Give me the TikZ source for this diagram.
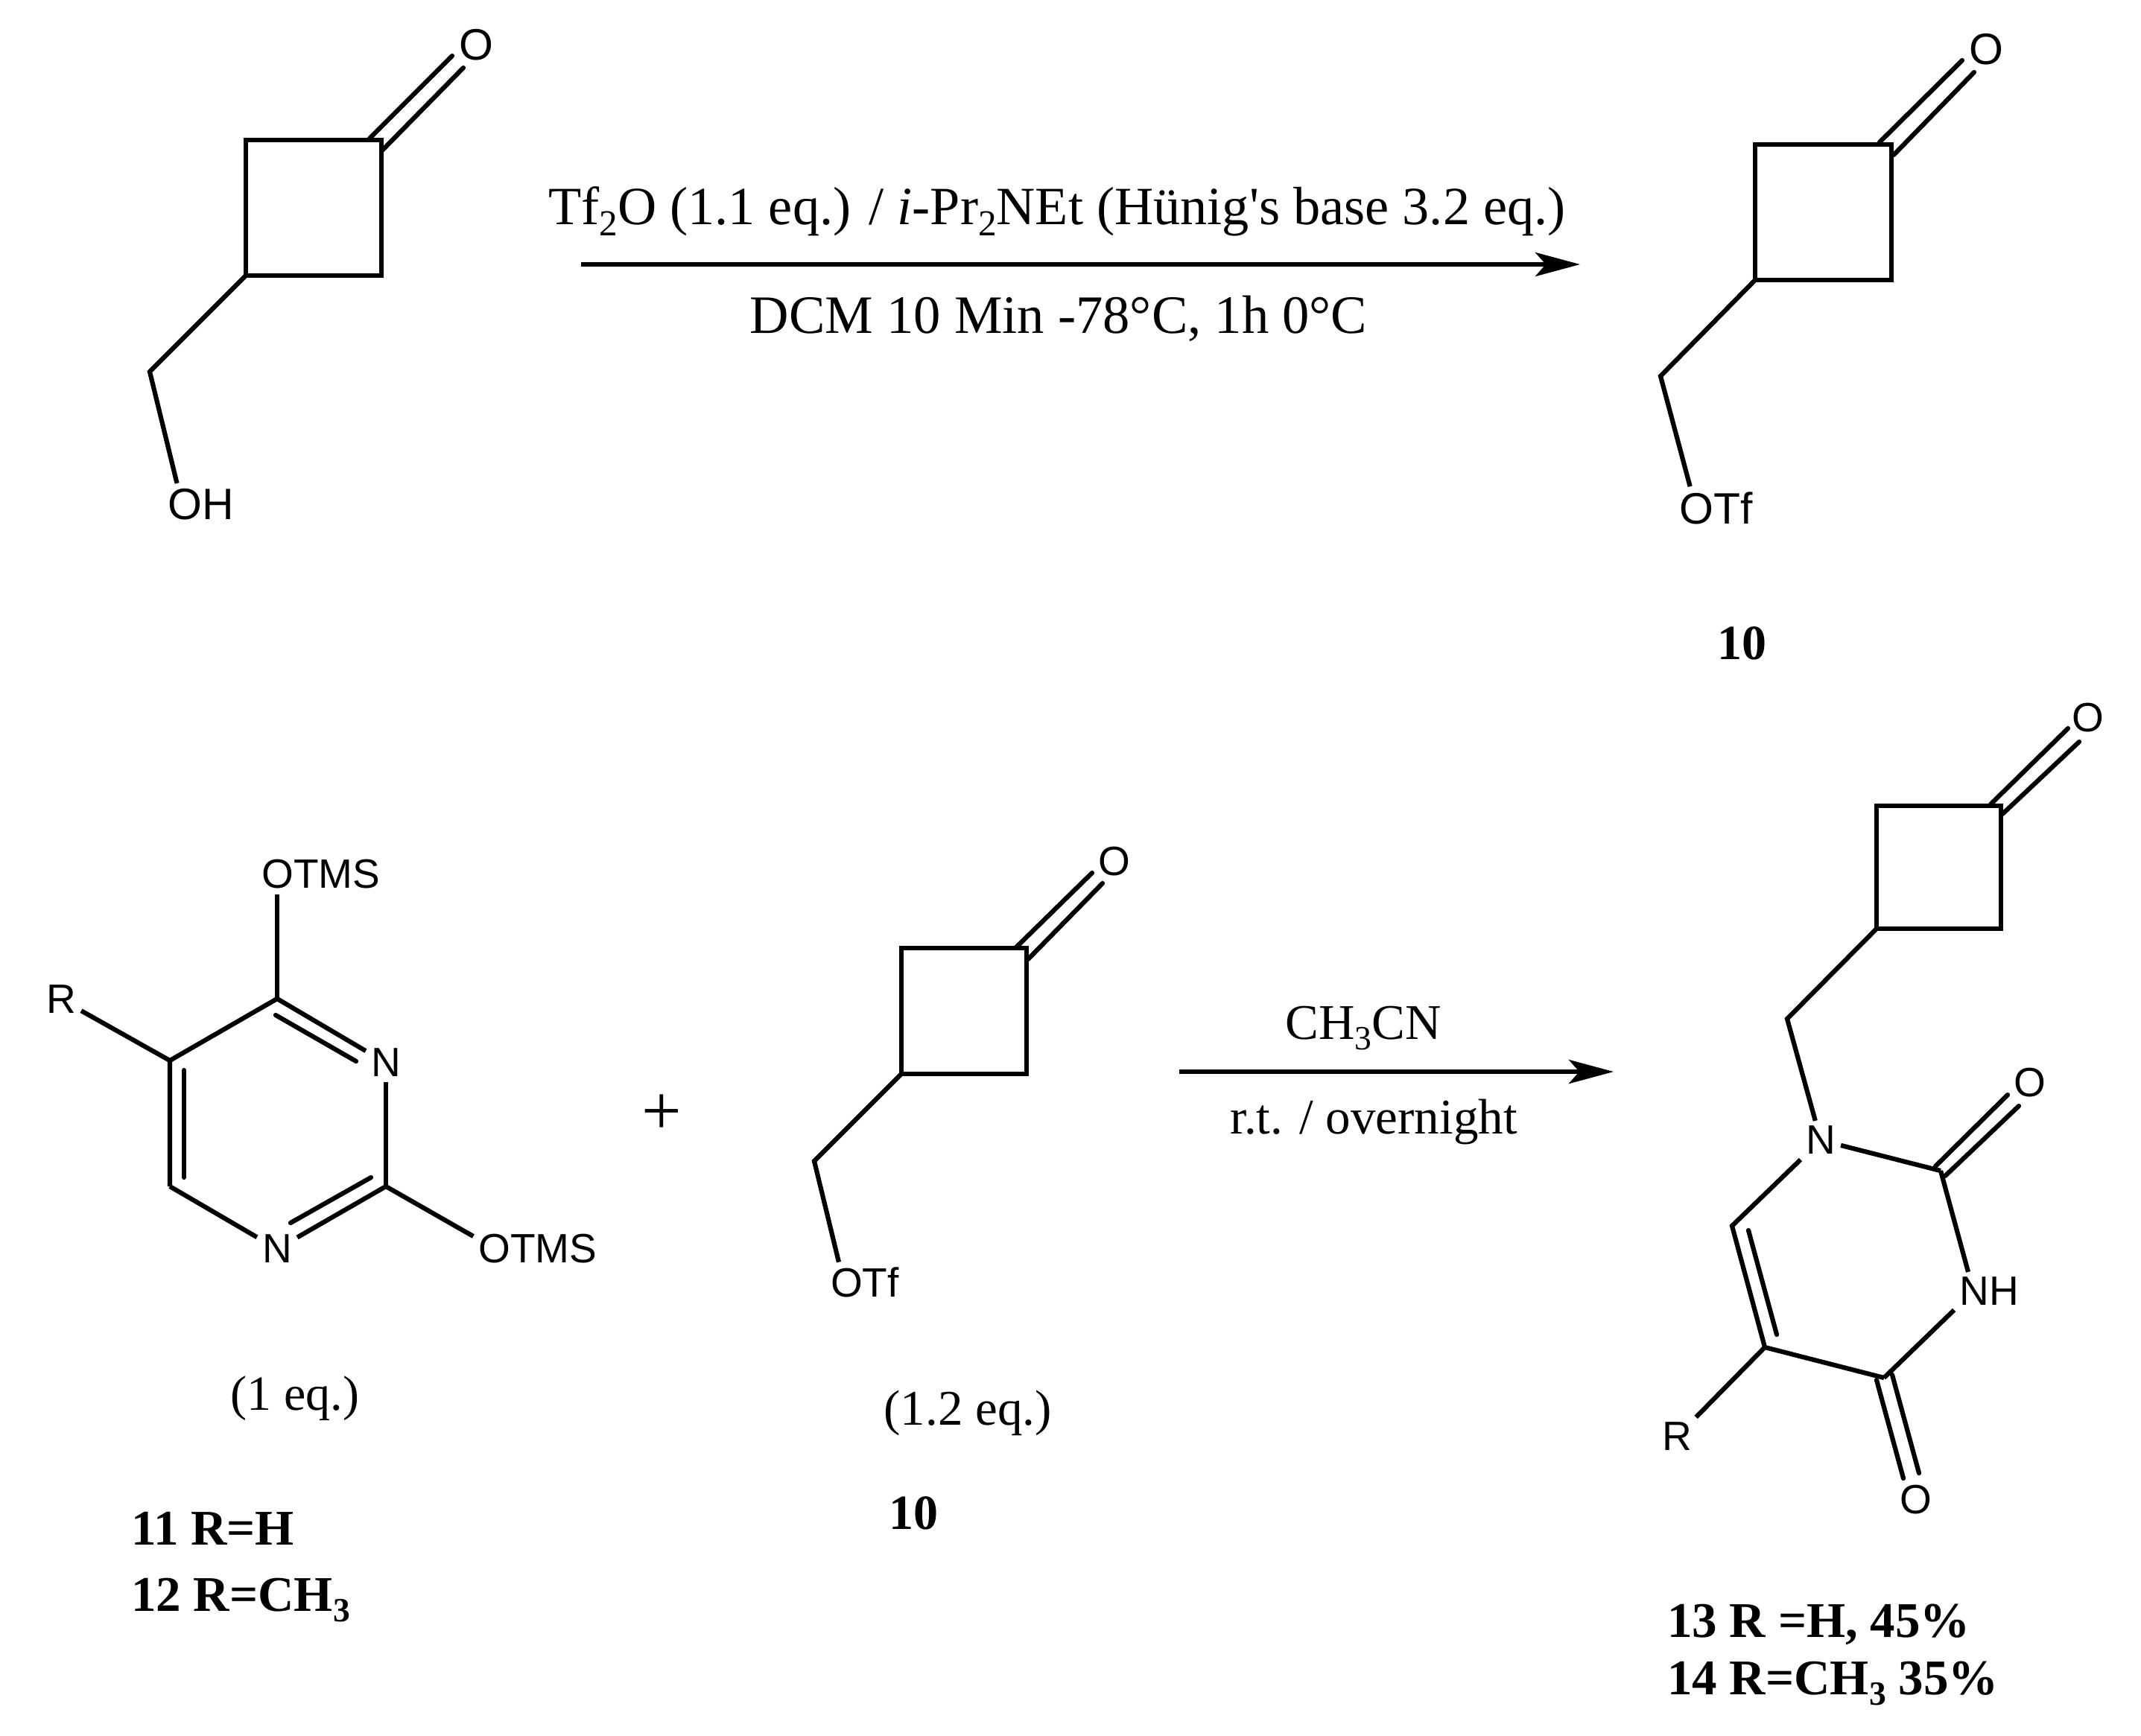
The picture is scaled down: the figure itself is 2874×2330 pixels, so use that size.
\documentclass[tikz,border=0pt]{standalone}
\usepackage{fontspec}
\setmainfont{Liberation Serif}
\setsansfont{Liberation Sans}
\usetikzlibrary{arrows.meta}
\newcommand{\sbs}[1]{\raisebox{-0.22em}{\scalebox{0.68}{#1}}}
\tikzset{
  bond/.style={line width=6.2pt,line cap=butt,line join=miter,black},
  ringbond/.style={line width=6.8pt,line join=miter,black},
  atom/.style={font=\sffamily\fontsize{55}{55}\selectfont,inner sep=7pt},
  atomL/.style={font=\sffamily\fontsize{59}{59}\selectfont,inner sep=7pt},
  cond/.style={font=\fontsize{72.3}{72.3}\selectfont,inner sep=0pt,anchor=base},
  condS/.style={font=\fontsize{67}{67}\selectfont,inner sep=0pt,anchor=base},
  lab/.style={font=\bfseries\fontsize{66}{66}\selectfont,inner sep=0pt,anchor=base},
  labW/.style={font=\bfseries\fontsize{67}{67}\selectfont,inner sep=0pt,anchor=base west},
  rxn/.style={line width=6pt,-{Stealth[length=60pt,width=32pt,inset=14pt]}}
}
\begin{document}
\begin{tikzpicture}[x=1pt,y=-1pt]
\useasboundingbox (0,0) rectangle (2874,2330);
% --- molecule 1
\coordinate (a1) at (330,188); \coordinate (a2) at (512,188);
\coordinate (a3) at (512,370); \coordinate (a4) at (330,370);
\coordinate (a5) at (201,499);
\node[atomL] (aOH) at (270,677) {OH};
\node[atomL] (aO) at (639,60) {O};
\coordinate (ad1) at (496,186); \coordinate (ad2) at (607,75);
\coordinate (ad3) at (512,203); \coordinate (ad4) at (622,91);
\draw[ringbond] (a1) -- (a2) -- (a3) -- (a4) -- cycle;
\draw[bond] (a4) -- (a5) -- ([xshift=19pt]aOH.north west);
\draw[bond,line cap=round] (ad1) -- (ad2);
\draw[bond,line cap=round] (ad3) -- (ad4);
% --- arrow 1
\coordinate (r1s) at (780,355); \coordinate (r1e) at (2121,355);
\draw[rxn] (r1s) -- (r1e);
\node[cond] (t1) at (1419,301) {Tf\sbs{2}O (1.1 eq.) / \textit{i}-Pr\sbs{2}NEt (Hünig\textquotesingle s base 3.2 eq.)};
\node[cond,font=\fontsize{72.6}{72.6}\selectfont] (t2) at (1421,447) {DCM 10 Min -78°C, 1h 0°C};
% --- molecule 2 (10)
\coordinate (b1) at (2356,194); \coordinate (b2) at (2539,194);
\coordinate (b3) at (2539,376); \coordinate (b4) at (2356,376);
\coordinate (b5) at (2229,505);
\node[atomL] (bOTf) at (2304,682) {OTf};
\node[atomL] (bO) at (2666,66) {O};
\coordinate (bd1) at (2523,191); \coordinate (bd2) at (2634,81);
\coordinate (bd3) at (2542,208); \coordinate (bd4) at (2650,97);
\draw[ringbond] (b1) -- (b2) -- (b3) -- (b4) -- cycle;
\draw[bond] (b4) -- (b5) -- ([xshift=21pt]bOTf.north west);
\draw[bond,line cap=round] (bd1) -- (bd2);
\draw[bond,line cap=round] (bd3) -- (bd4);
\node[lab] (l10a) at (2338,885) {10};
% --- molecule 3 (pyrimidine)
\coordinate (c4) at (372,1341); \coordinate (c5) at (228,1424);
\coordinate (c6) at (228,1593); \coordinate (c2) at (518,1593);
\node[atom] (n3) at (518,1427) {N};
\node[atom] (n1) at (372,1677) {N};
\node[atom] (cR) at (82,1342) {R};
\node[atom] (otmsT) at (431,1174) {OTMS};
\node[atom] (otmsR) at (722,1677) {OTMS};
\coordinate (cd1) at (370,1363); \coordinate (cd2) at (478,1425);
\coordinate (cd3) at (247,1437); \coordinate (cd4) at (247,1581);
\coordinate (cd5) at (498,1581); \coordinate (cd6) at (390,1642);
\draw[bond] (c4 |- otmsT.south) -- (c4);
\draw[bond] (c4) -- (n3);
\draw[bond] (n3) -- (c2);
\draw[bond] (c2) -- (n1);
\draw[bond] (n1) -- (c6);
\draw[bond] (c6) -- (c5) -- (c4);
\draw[bond] (cR) -- (c5);
\draw[bond] (c2) -- ([yshift=17pt]otmsR.west);
\draw[bond,line cap=round] (cd1) -- (cd2);
\draw[bond,line cap=round] (cd3) -- (cd4);
\draw[bond,line cap=round] (cd5) -- (cd6);
\node[font=\fontsize{66}{66}\selectfont,inner sep=0pt,anchor=base] (eq1) at (396,1893) {(1 eq.)};
\node[labW] (l11) at (176,2074) {11 R=H};
\node[labW] (l12) at (176,2163) {12 R=CH\sbs{3}};
% --- plus
\node[font=\fontsize{95}{95}\selectfont,inner sep=0pt] (plus) at (888,1497) {+};
% --- molecule 4 (10)
\coordinate (d1) at (1210,1273); \coordinate (d2) at (1378,1273);
\coordinate (d3) at (1378,1442); \coordinate (d4) at (1210,1442);
\coordinate (d5) at (1093,1559);
\node[atom] (dOTf) at (1161,1722) {OTf};
\node[atom] (dO) at (1496,1157) {O};
\coordinate (dd1) at (1364,1272); \coordinate (dd2) at (1466,1172);
\coordinate (dd3) at (1380,1288); \coordinate (dd4) at (1480,1186);
\draw[ringbond] (d1) -- (d2) -- (d3) -- (d4) -- cycle;
\draw[bond] (d4) -- (d5) -- ([xshift=18pt]dOTf.north west);
\draw[bond,line cap=round] (dd1) -- (dd2);
\draw[bond,line cap=round] (dd3) -- (dd4);
\node[condS] (eq2) at (1299,1913) {(1.2 eq.)};
\node[lab] (l10b) at (1226,2053) {10};
% --- arrow 2
\coordinate (r2s) at (1583,1439); \coordinate (r2e) at (2166,1439);
\draw[rxn] (r2s) -- (r2e);
\node[condS] (t3) at (1830,1395) {CH\sbs{3}CN};
\node[condS] (t4) at (1844,1522) {r.t. / overnight};
% --- molecule 5 (product)
\coordinate (e1) at (2519,1082); \coordinate (e2) at (2686,1082);
\coordinate (e3) at (2686,1247); \coordinate (e4) at (2519,1247);
\coordinate (e5) at (2399,1368);
\coordinate (eC2) at (2605,1572); \coordinate (eC4) at (2529,1850);
\coordinate (eC5) at (2369,1809); \coordinate (eC6) at (2325,1646);
\node[atom] (eN) at (2444,1531) {N};
\node[atom] (eNH) at (2670,1734) {NH};
\node[atom] (eR) at (2251,1929) {R};
\node[atom] (eO1) at (2803,964) {O};
\node[atom] (eO2) at (2725,1454) {O};
\node[atom] (eO3) at (2572,2014) {O};
\coordinate (ed1) at (2672,1080); \coordinate (ed2) at (2776,978);
\coordinate (ed3) at (2688,1093); \coordinate (ed4) at (2791,996);
\coordinate (ed5) at (2598,1566); \coordinate (ed6) at (2695,1470);
\coordinate (ed7) at (2611,1579); \coordinate (ed8) at (2710,1485);
\coordinate (ed9) at (2519,1853); \coordinate (ed10) at (2555,1985);
\coordinate (ed11) at (2540,1846); \coordinate (ed12) at (2576,1978);
\coordinate (ed13) at (2347,1652); \coordinate (ed14) at (2385,1792);
\draw[ringbond] (e1) -- (e2) -- (e3) -- (e4) -- cycle;
\draw[bond] (e4) -- (e5) -- (eN);
\draw[bond] (eN) -- (eC2);
\draw[bond] (eC2) -- ([xshift=-28pt]eNH.north);
\draw[bond] ([yshift=-25pt]eNH.west) -- (eC4);
\draw[bond] (eC4) -- (eC5) -- (eC6) -- (eN);
\draw[bond] (eC5) -- (eR);
\foreach \p/\q in {ed1/ed2,ed3/ed4,ed5/ed6,ed7/ed8,ed9/ed10,ed11/ed12,ed13/ed14}
  \draw[bond,line cap=round] (\p) -- (\q);
\node[labW] (l13) at (2238,2198) {13 R =H, 45\%};
\node[labW] (l14) at (2238,2275) {14 R=CH\sbs{3} 35\%};
\end{tikzpicture}
\end{document}
